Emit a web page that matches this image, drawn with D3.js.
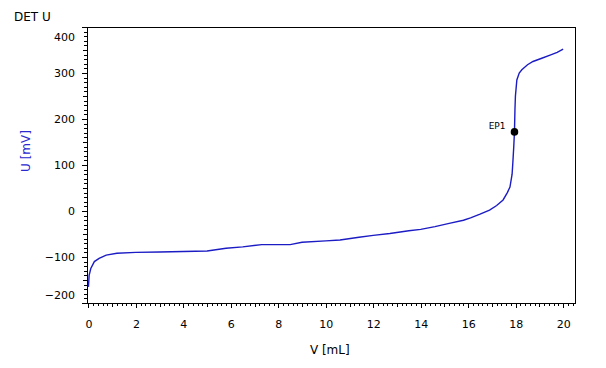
<!DOCTYPE html>
<html>
<head>
<meta charset="utf-8">
<script src="https://cdn.jsdelivr.net/npm/d3@7"></script>
<style>
  body { margin: 0; background: #fff; }
  svg text { font-family: "DejaVu Sans", Verdana, sans-serif; }
  .axis path, .axis line { stroke: #000; shape-rendering: crispEdges; }
</style>
</head>
<body>
<svg width="606" height="368"></svg>
<script>
/* titration curve: volume (mL) vs potential (mV) */
var volume = [0.00, 0.03, 0.10, 0.25, 0.45, 0.75, 1.2, 2.0, 3.0, 4.0, 5.0, 5.8, 6.5, 7.3, 8.5, 9.0, 10.0,
    10.6, 11.4, 12.0, 12.7, 13.5, 14.0, 14.6, 15.2, 15.8, 16.1, 16.5, 16.9, 17.2, 17.47, 17.65, 17.76,
    17.85, 17.88, 17.92, 17.95, 17.97, 17.99, 18.05, 18.15, 18.26, 18.5, 18.73, 19.1, 19.45, 19.75, 20.0];
var potential = [-165, -140, -125, -110, -103, -96, -92, -90, -89, -88, -87, -81, -78, -73, -73, -68, -65,
    -63, -57, -53, -49, -43, -40, -34, -27, -20, -15, -7, 2, 12, 24, 40, 52,
    80, 104, 140, 172, 220, 250, 285, 300, 307, 318, 325, 332, 339, 345, 352];

var endpointLabel = ["EP1"];
var endpointV = [17.95];
var endpointU = [172];

var xTicks = [0, 2, 4, 6, 8, 10, 12, 14, 16, 18, 20];
var yTicks = [-200, -100, 0, 100, 200, 300, 400];

var svg = d3.select("svg"),
    margin = {top: 27, right: 31, bottom: 65, left: 87},
    width = +svg.attr("width") - margin.left - margin.right,
    height = +svg.attr("height") - margin.top - margin.bottom;

var x = d3.scaleLinear().domain([-0.06, 20.5]).range([0, width]),
    y = d3.scaleLinear().domain([-200, 400]).range([height, 0]);

var g = svg.append("g")
    .attr("transform", "translate(" + margin.left + "," + margin.top + ")");

/* frame */
g.append("rect")
    .attr("x", 0.5).attr("y", 0.5)
    .attr("width", width).attr("height", height)
    .attr("fill", "none").attr("stroke", "#000")
    .attr("shape-rendering", "crispEdges");

/* minor ticks first, then major axes on top */
g.append("g")
    .attr("class", "axis")
    .attr("transform", "translate(0," + height + ")")
    .call(d3.axisBottom(x).tickValues(d3.range(0, 20.5, 0.2)).tickSize(3).tickFormat(""))
    .call(function (a) { a.select(".domain").remove(); });
g.append("g")
    .attr("class", "axis")
    .attr("transform", "translate(0," + height + ")")
    .call(d3.axisBottom(x).tickValues(d3.range(1, 20, 2)).tickSize(4).tickFormat(""))
    .call(function (a) { a.select(".domain").remove(); });
g.append("g")
    .attr("class", "axis")
    .attr("transform", "translate(0," + height + ")")
    .call(d3.axisBottom(x).tickValues(xTicks).tickSize(5).tickSizeOuter(0).tickPadding(12))
    .call(function (a) {
        a.select(".domain").attr("d", "M0.5,0.5H" + width);
        a.selectAll("text").attr("font-size", "11px").attr("fill", "#000");
    });

g.append("g")
    .attr("class", "axis")
    .call(d3.axisLeft(y).tickValues(d3.range(-200, 401, 10)).tickSize(3).tickFormat(""))
    .call(function (a) { a.select(".domain").remove(); });
g.append("g")
    .attr("class", "axis")
    .call(d3.axisLeft(y).tickValues(d3.range(-150, 400, 100)).tickSize(4).tickFormat(""))
    .call(function (a) { a.select(".domain").remove(); });
g.append("g")
    .attr("class", "axis")
    .call(d3.axisLeft(y).tickValues(yTicks).tickSize(5).tickSizeOuter(0).tickPadding(7))
    .call(function (a) {
        a.select(".domain").attr("d", "M0.5,0V" + height);
        a.selectAll("text").attr("font-size", "11px").attr("fill", "#000")
            .attr("dy", function (d) {
                // end labels are pulled inside the axis range
                if (d === 400) return "1.25em";
                if (d === -200) return "-0.4em";
                return "0.32em";
            });
    });

/* curve */
var pts = volume.map(function (v, i) { return [v, potential[i]]; });
var line = d3.line()
    .x(function (d) { return x(d[0]); })
    .y(function (d) { return y(d[1]); });

g.append("path")
    .datum(pts)
    .attr("fill", "none")
    .attr("stroke", "#1c1cc4")
    .attr("stroke-width", 1.4)
    .attr("d", line);

/* endpoint */
g.selectAll(".ep")
    .data(endpointLabel)
    .enter().append("circle")
    .attr("cx", function (d, i) { return x(endpointV[i]); })
    .attr("cy", function (d, i) { return y(endpointU[i]); })
    .attr("r", 3.8)
    .attr("fill", "#000");
g.selectAll(".eplabel")
    .data(endpointLabel)
    .enter().append("text")
    .attr("x", function (d, i) { return x(endpointV[i]) - 9; })
    .attr("y", function (d, i) { return y(endpointU[i]) - 3; })
    .attr("text-anchor", "end")
    .attr("font-size", "9px")
    .attr("fill", "#000")
    .text(function (d) { return d; });

/* titles */
svg.append("text")
    .attr("x", 14).attr("y", 21)
    .attr("font-size", "12px")
    .attr("fill", "#000")
    .text("DET U");

svg.append("text")
    .attr("transform", "translate(30," + 151 + ")rotate(-90)")
    .attr("text-anchor", "middle")
    .attr("font-size", "12px")
    .attr("fill", "#2a2ad0")
    .text("U [mV]");

svg.append("text")
    .attr("x", margin.left + x(10) + 4)
    .attr("y", 354)
    .attr("text-anchor", "middle")
    .attr("font-size", "12px")
    .attr("fill", "#000")
    .text("V [mL]");
</script>
</body>
</html>
